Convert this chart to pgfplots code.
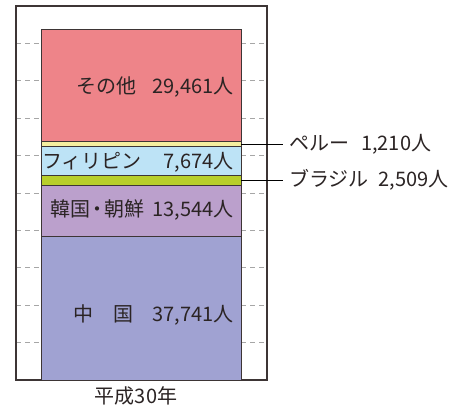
\documentclass[border=0pt]{standalone}
\usepackage{pgfplots}
\pgfplotsset{compat=1.18}
\usepackage{fontspec}
\setmainfont{Noto Sans CJK JP}
\definecolor{cChina}{HTML}{A0A2D2}
\definecolor{cKorea}{HTML}{BBA0CC}
\definecolor{cBrazil}{HTML}{B8CF2A}
\definecolor{cPhil}{HTML}{BDE3F6}
\definecolor{cPeru}{HTML}{F5EFA0}
\definecolor{cOther}{HTML}{EE8489}
\definecolor{edge}{HTML}{3D3535}
\definecolor{txt}{HTML}{2B2424}
\begin{document}
\begin{tikzpicture}
\useasboundingbox (0,0) rectangle (467bp,-408bp);
\begin{axis}[
  at={(16bp,-380bp)}, anchor=south west,
  width=251bp, height=374bp, scale only axis,
  xmin=-0.5, xmax=0.5, ymin=0, ymax=98458,
  xtick=\empty,
  ytick={9846,19692,29537,39383,49229,59075,68920,78766,88612},
  yticklabels={}, scaled y ticks=false,
  major tick length=0pt,
  ymajorgrids,
  grid style={dash pattern=on 5bp off 4bp, gray!70, line width=0.8bp},
  axis line style={line width=1.3bp, draw=edge},
  ybar stacked, bar width=199bp,
  clip=false,
]
\addplot[fill=cChina, draw=edge, line width=1bp] coordinates {(0,37741)};
\addplot[fill=cKorea, draw=edge, line width=1bp] coordinates {(0,13544)};
\addplot[fill=cBrazil, draw=edge, line width=1bp] coordinates {(0,2509)};
\addplot[fill=cPhil, draw=edge, line width=1bp] coordinates {(0,7674)};
\addplot[fill=cPeru, draw=edge, line width=1bp] coordinates {(0,1210)};
\addplot[fill=cOther, draw=edge, line width=1bp] coordinates {(0,29461)};

\coordinate (lO) at (axis cs:0.3685,77133);
\coordinate (lP) at (axis cs:0.3685,57389);
\coordinate (lK) at (axis cs:0.3685,44753);
\coordinate (lC) at (axis cs:0.3685,17111);
\coordinate (peA) at (axis cs:0.3964,62073);
\coordinate (peB) at (axis cs:0.5637,62073);
\coordinate (brA) at (axis cs:0.3964,52540);
\coordinate (brB) at (axis cs:0.5637,52540);
\coordinate (lPe) at (axis cs:0.5876,62127);
\coordinate (lBr) at (axis cs:0.5876,52651);
\coordinate (lX) at (axis cs:-0.0219,-4212);
\end{axis}
\tikzset{lab/.style={font=\fontsize{20bp}{24bp}\selectfont, text=txt, inner sep=0pt}}
\node[lab, anchor=east] at (lO) {その他\hspace{0.8em}29,461人};
\node[lab, anchor=east] at (lP) {フィリピン\hspace{1.1em}7,674人};
\node[lab, anchor=east] at (lK) {韓国\hspace{-0.15em}・\hspace{-0.15em}朝鮮\hspace{0.4em}13,544人};
\node[lab, anchor=east] at (lC) {中\hspace{0.97em}国\hspace{0.97em}37,741人};
\draw[line width=1bp, black] (peA) -- (peB);
\draw[line width=1bp, black] (brA) -- (brB);
\node[lab, anchor=west] at (lPe) {ペルー\hspace{0.6em}1,210人};
\node[lab, anchor=west] at (lBr) {ブラジル\hspace{0.5em}2,509人};
\node[lab, anchor=center] at (lX) {平成30年};
\end{tikzpicture}
\end{document}
